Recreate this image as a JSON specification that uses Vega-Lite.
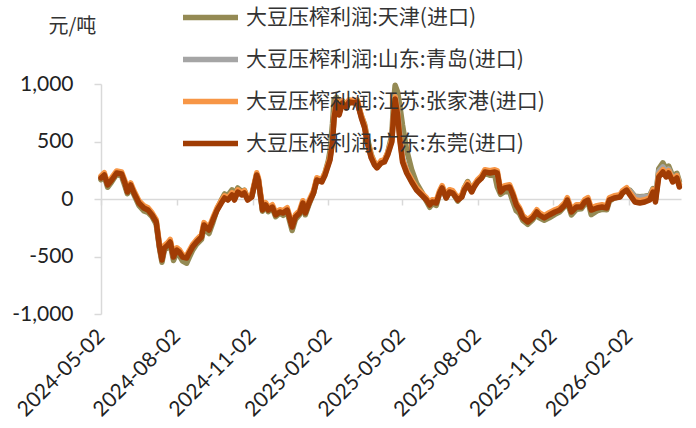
{
  "$schema": "https://vega.github.io/schema/vega-lite/v6.json",
  "width": 580,
  "height": 230,
  "autosize": "none",
  "padding": {"left": 101, "top": 84, "right": 15, "bottom": 114},
  "background": "white",
  "config": {"view": {"stroke": null}, "font": "Lato"},
  "datasets": {
    "tianjin": [
      {"d":"2024-05-02","v":168},{"d":"2024-05-06","v":199},{"d":"2024-05-10","v":102},{"d":"2024-05-15","v":150},{"d":"2024-05-21","v":216},{"d":"2024-05-27","v":197},{"d":"2024-05-31","v":114},{"d":"2024-06-03","v":46},{"d":"2024-06-07","v":102},{"d":"2024-06-11","v":37},{"d":"2024-06-17","v":-55},{"d":"2024-06-23","v":-103},{"d":"2024-06-28","v":-116},{"d":"2024-07-03","v":-154},{"d":"2024-07-08","v":-220},{"d":"2024-07-12","v":-428},{"d":"2024-07-15","v":-550},{"d":"2024-07-18","v":-441},{"d":"2024-07-22","v":-425},{"d":"2024-07-25","v":-394},{"d":"2024-07-29","v":-535},{"d":"2024-08-02","v":-464},{"d":"2024-08-05","v":-491},{"d":"2024-08-09","v":-540},{"d":"2024-08-14","v":-558},{"d":"2024-08-17","v":-510},{"d":"2024-08-21","v":-448},{"d":"2024-08-26","v":-394},{"d":"2024-09-01","v":-351},{"d":"2024-09-04","v":-251},{"d":"2024-09-10","v":-300},{"d":"2024-09-15","v":-200},{"d":"2024-09-20","v":-86},{"d":"2024-09-25","v":-10},{"d":"2024-09-29","v":44},{"d":"2024-10-03","v":31},{"d":"2024-10-08","v":80},{"d":"2024-10-11","v":31},{"d":"2024-10-15","v":96},{"d":"2024-10-20","v":65},{"d":"2024-10-23","v":77},{"d":"2024-10-27","v":6},{"d":"2024-11-01","v":27},{"d":"2024-11-07","v":209},{"d":"2024-11-09","v":170},{"d":"2024-11-14","v":-106},{"d":"2024-11-18","v":-57},{"d":"2024-11-21","v":-111},{"d":"2024-11-26","v":-80},{"d":"2024-11-30","v":-154},{"d":"2024-12-05","v":-123},{"d":"2024-12-09","v":-142},{"d":"2024-12-14","v":-111},{"d":"2024-12-20","v":-274},{"d":"2024-12-24","v":-177},{"d":"2024-12-29","v":-137},{"d":"2025-01-02","v":-45},{"d":"2025-01-05","v":-137},{"d":"2025-01-10","v":-36},{"d":"2025-01-15","v":52},{"d":"2025-01-19","v":175},{"d":"2025-01-25","v":163},{"d":"2025-01-29","v":229},{"d":"2025-02-02","v":336},{"d":"2025-02-04","v":420},{"d":"2025-02-07","v":656},{"d":"2025-02-09","v":865},{"d":"2025-02-12","v":884},{"d":"2025-02-15","v":791},{"d":"2025-02-19","v":855},{"d":"2025-02-24","v":822},{"d":"2025-02-27","v":854},{"d":"2025-03-06","v":835},{"d":"2025-03-09","v":834},{"d":"2025-03-14","v":725},{"d":"2025-03-18","v":648},{"d":"2025-03-21","v":536},{"d":"2025-03-26","v":387},{"d":"2025-03-30","v":316},{"d":"2025-04-02","v":280},{"d":"2025-04-07","v":313},{"d":"2025-04-11","v":332},{"d":"2025-04-15","v":403},{"d":"2025-04-20","v":556},{"d":"2025-04-22","v":825},{"d":"2025-04-24","v":990},{"d":"2025-04-27","v":931},{"d":"2025-04-30","v":796},{"d":"2025-05-03","v":642},{"d":"2025-05-08","v":426},{"d":"2025-05-14","v":258},{"d":"2025-05-20","v":138},{"d":"2025-05-26","v":65},{"d":"2025-06-01","v":-19},{"d":"2025-06-05","v":-72},{"d":"2025-06-08","v":-41},{"d":"2025-06-13","v":-55},{"d":"2025-06-17","v":52},{"d":"2025-06-20","v":106},{"d":"2025-06-25","v":9},{"d":"2025-06-29","v":66},{"d":"2025-07-03","v":52},{"d":"2025-07-09","v":-19},{"d":"2025-07-14","v":27},{"d":"2025-07-17","v":98},{"d":"2025-07-21","v":152},{"d":"2025-07-26","v":81},{"d":"2025-07-29","v":119},{"d":"2025-08-02","v":158},{"d":"2025-08-07","v":183},{"d":"2025-08-11","v":225},{"d":"2025-08-17","v":206},{"d":"2025-08-23","v":205},{"d":"2025-08-26","v":106},{"d":"2025-08-30","v":41},{"d":"2025-09-04","v":66},{"d":"2025-09-10","v":64},{"d":"2025-09-14","v":-25},{"d":"2025-09-18","v":-102},{"d":"2025-09-22","v":-126},{"d":"2025-09-26","v":-185},{"d":"2025-10-02","v":-220},{"d":"2025-10-08","v":-180},{"d":"2025-10-13","v":-133},{"d":"2025-10-16","v":-164},{"d":"2025-10-22","v":-185},{"d":"2025-10-28","v":-164},{"d":"2025-11-04","v":-133},{"d":"2025-11-10","v":-111},{"d":"2025-11-16","v":-62},{"d":"2025-11-19","v":-29},{"d":"2025-11-24","v":-138},{"d":"2025-11-30","v":-90},{"d":"2025-12-06","v":-85},{"d":"2025-12-10","v":-46},{"d":"2025-12-14","v":-19},{"d":"2025-12-18","v":-136},{"d":"2025-12-25","v":-103},{"d":"2025-12-31","v":-90},{"d":"2026-01-06","v":-93},{"d":"2026-01-09","v":-19},{"d":"2026-01-15","v":9},{"d":"2026-01-22","v":22},{"d":"2026-01-25","v":52},{"d":"2026-01-30","v":88},{"d":"2026-02-03","v":75},{"d":"2026-02-09","v":24},{"d":"2026-02-15","v":20},{"d":"2026-02-21","v":24},{"d":"2026-02-27","v":31},{"d":"2026-03-03","v":91},{"d":"2026-03-06","v":-6},{"d":"2026-03-10","v":262},{"d":"2026-03-15","v":315},{"d":"2026-03-19","v":262},{"d":"2026-03-22","v":286},{"d":"2026-03-27","v":198},{"d":"2026-04-01","v":223},{"d":"2026-04-04","v":154}
    ],
    "qingdao": [
      {"d":"2024-05-02","v":190},{"d":"2024-05-06","v":215},{"d":"2024-05-10","v":130},{"d":"2024-05-15","v":172},{"d":"2024-05-21","v":232},{"d":"2024-05-27","v":222},{"d":"2024-05-31","v":145},{"d":"2024-06-03","v":68},{"d":"2024-06-07","v":128},{"d":"2024-06-11","v":58},{"d":"2024-06-17","v":-28},{"d":"2024-06-23","v":-70},{"d":"2024-06-28","v":-90},{"d":"2024-07-03","v":-132},{"d":"2024-07-08","v":-192},{"d":"2024-07-12","v":-410},{"d":"2024-07-15","v":-522},{"d":"2024-07-18","v":-418},{"d":"2024-07-22","v":-392},{"d":"2024-07-25","v":-366},{"d":"2024-07-29","v":-497},{"d":"2024-08-02","v":-436},{"d":"2024-08-05","v":-452},{"d":"2024-08-09","v":-496},{"d":"2024-08-14","v":-505},{"d":"2024-08-17","v":-462},{"d":"2024-08-21","v":-410},{"d":"2024-08-26","v":-366},{"d":"2024-09-01","v":-322},{"d":"2024-09-04","v":-218},{"d":"2024-09-10","v":-262},{"d":"2024-09-15","v":-172},{"d":"2024-09-20","v":-88},{"d":"2024-09-25","v":-25},{"d":"2024-09-29","v":18},{"d":"2024-10-03","v":2},{"d":"2024-10-08","v":45},{"d":"2024-10-11","v":0},{"d":"2024-10-15","v":70},{"d":"2024-10-20","v":44},{"d":"2024-10-23","v":60},{"d":"2024-10-27","v":0},{"d":"2024-11-01","v":25},{"d":"2024-11-07","v":215},{"d":"2024-11-09","v":172},{"d":"2024-11-14","v":-88},{"d":"2024-11-18","v":-45},{"d":"2024-11-21","v":-88},{"d":"2024-11-26","v":-62},{"d":"2024-11-30","v":-130},{"d":"2024-12-05","v":-105},{"d":"2024-12-09","v":-114},{"d":"2024-12-14","v":-88},{"d":"2024-12-20","v":-236},{"d":"2024-12-24","v":-149},{"d":"2024-12-29","v":-114},{"d":"2025-01-02","v":-27},{"d":"2025-01-05","v":-114},{"d":"2025-01-10","v":-18},{"d":"2025-01-15","v":60},{"d":"2025-01-19","v":172},{"d":"2025-01-25","v":155},{"d":"2025-01-29","v":216},{"d":"2025-02-02","v":305},{"d":"2025-02-04","v":352},{"d":"2025-02-07","v":520},{"d":"2025-02-09","v":730},{"d":"2025-02-12","v":852},{"d":"2025-02-15","v":745},{"d":"2025-02-19","v":842},{"d":"2025-02-24","v":800},{"d":"2025-02-27","v":850},{"d":"2025-03-06","v":842},{"d":"2025-03-09","v":850},{"d":"2025-03-14","v":712},{"d":"2025-03-18","v":626},{"d":"2025-03-21","v":505},{"d":"2025-03-26","v":365},{"d":"2025-03-30","v":304},{"d":"2025-04-02","v":278},{"d":"2025-04-07","v":320},{"d":"2025-04-11","v":330},{"d":"2025-04-15","v":392},{"d":"2025-04-20","v":510},{"d":"2025-04-22","v":730},{"d":"2025-04-24","v":890},{"d":"2025-04-27","v":770},{"d":"2025-04-30","v":540},{"d":"2025-05-03","v":360},{"d":"2025-05-08","v":250},{"d":"2025-05-14","v":160},{"d":"2025-05-20","v":86},{"d":"2025-05-26","v":42},{"d":"2025-06-01","v":-2},{"d":"2025-06-05","v":-45},{"d":"2025-06-08","v":-18},{"d":"2025-06-13","v":-28},{"d":"2025-06-17","v":60},{"d":"2025-06-20","v":104},{"d":"2025-06-25","v":16},{"d":"2025-06-29","v":68},{"d":"2025-07-03","v":60},{"d":"2025-07-09","v":-2},{"d":"2025-07-14","v":25},{"d":"2025-07-17","v":86},{"d":"2025-07-21","v":130},{"d":"2025-07-26","v":68},{"d":"2025-07-29","v":112},{"d":"2025-08-02","v":156},{"d":"2025-08-07","v":190},{"d":"2025-08-11","v":242},{"d":"2025-08-17","v":233},{"d":"2025-08-23","v":240},{"d":"2025-08-26","v":220},{"d":"2025-08-30","v":68},{"d":"2025-09-04","v":104},{"d":"2025-09-10","v":110},{"d":"2025-09-14","v":40},{"d":"2025-09-18","v":-45},{"d":"2025-09-22","v":-90},{"d":"2025-09-26","v":-158},{"d":"2025-10-02","v":-192},{"d":"2025-10-08","v":-158},{"d":"2025-10-13","v":-105},{"d":"2025-10-16","v":-131},{"d":"2025-10-22","v":-158},{"d":"2025-10-28","v":-131},{"d":"2025-11-04","v":-105},{"d":"2025-11-10","v":-88},{"d":"2025-11-16","v":-45},{"d":"2025-11-19","v":-2},{"d":"2025-11-24","v":-105},{"d":"2025-11-30","v":-62},{"d":"2025-12-06","v":-62},{"d":"2025-12-10","v":-18},{"d":"2025-12-14","v":-2},{"d":"2025-12-18","v":-88},{"d":"2025-12-25","v":-70},{"d":"2025-12-31","v":-62},{"d":"2026-01-06","v":-70},{"d":"2026-01-09","v":-2},{"d":"2026-01-15","v":16},{"d":"2026-01-22","v":25},{"d":"2026-01-25","v":60},{"d":"2026-01-30","v":86},{"d":"2026-02-03","v":70},{"d":"2026-02-09","v":20},{"d":"2026-02-15","v":15},{"d":"2026-02-21","v":20},{"d":"2026-02-27","v":25},{"d":"2026-03-03","v":80},{"d":"2026-03-06","v":0},{"d":"2026-03-10","v":240},{"d":"2026-03-15","v":280},{"d":"2026-03-19","v":235},{"d":"2026-03-22","v":260},{"d":"2026-03-27","v":180},{"d":"2026-04-01","v":205},{"d":"2026-04-04","v":130}
    ],
    "zhangjiagang": [
      {"d":"2024-05-02","v":200},{"d":"2024-05-06","v":228},{"d":"2024-05-10","v":140},{"d":"2024-05-15","v":185},{"d":"2024-05-21","v":244},{"d":"2024-05-27","v":236},{"d":"2024-05-31","v":160},{"d":"2024-06-03","v":80},{"d":"2024-06-07","v":140},{"d":"2024-06-11","v":72},{"d":"2024-06-17","v":-15},{"d":"2024-06-23","v":-58},{"d":"2024-06-28","v":-76},{"d":"2024-07-03","v":-120},{"d":"2024-07-08","v":-180},{"d":"2024-07-12","v":-396},{"d":"2024-07-15","v":-510},{"d":"2024-07-18","v":-404},{"d":"2024-07-22","v":-380},{"d":"2024-07-25","v":-352},{"d":"2024-07-29","v":-485},{"d":"2024-08-02","v":-424},{"d":"2024-08-05","v":-440},{"d":"2024-08-09","v":-484},{"d":"2024-08-14","v":-492},{"d":"2024-08-17","v":-450},{"d":"2024-08-21","v":-398},{"d":"2024-08-26","v":-354},{"d":"2024-09-01","v":-310},{"d":"2024-09-04","v":-205},{"d":"2024-09-10","v":-250},{"d":"2024-09-15","v":-160},{"d":"2024-09-20","v":-76},{"d":"2024-09-25","v":-15},{"d":"2024-09-29","v":28},{"d":"2024-10-03","v":10},{"d":"2024-10-08","v":55},{"d":"2024-10-11","v":10},{"d":"2024-10-15","v":80},{"d":"2024-10-20","v":55},{"d":"2024-10-23","v":72},{"d":"2024-10-27","v":10},{"d":"2024-11-01","v":36},{"d":"2024-11-07","v":228},{"d":"2024-11-09","v":185},{"d":"2024-11-14","v":-76},{"d":"2024-11-18","v":-32},{"d":"2024-11-21","v":-76},{"d":"2024-11-26","v":-50},{"d":"2024-11-30","v":-118},{"d":"2024-12-05","v":-93},{"d":"2024-12-09","v":-102},{"d":"2024-12-14","v":-76},{"d":"2024-12-20","v":-224},{"d":"2024-12-24","v":-137},{"d":"2024-12-29","v":-102},{"d":"2025-01-02","v":-15},{"d":"2025-01-05","v":-102},{"d":"2025-01-10","v":-6},{"d":"2025-01-15","v":72},{"d":"2025-01-19","v":185},{"d":"2025-01-25","v":168},{"d":"2025-01-29","v":229},{"d":"2025-02-02","v":316},{"d":"2025-02-04","v":362},{"d":"2025-02-07","v":518},{"d":"2025-02-09","v":728},{"d":"2025-02-12","v":864},{"d":"2025-02-15","v":752},{"d":"2025-02-19","v":855},{"d":"2025-02-24","v":812},{"d":"2025-02-27","v":862},{"d":"2025-03-06","v":855},{"d":"2025-03-09","v":862},{"d":"2025-03-14","v":725},{"d":"2025-03-18","v":638},{"d":"2025-03-21","v":516},{"d":"2025-03-26","v":377},{"d":"2025-03-30","v":316},{"d":"2025-04-02","v":290},{"d":"2025-04-07","v":333},{"d":"2025-04-11","v":342},{"d":"2025-04-15","v":403},{"d":"2025-04-20","v":516},{"d":"2025-04-22","v":725},{"d":"2025-04-24","v":890},{"d":"2025-04-27","v":752},{"d":"2025-04-30","v":518},{"d":"2025-05-03","v":342},{"d":"2025-05-08","v":246},{"d":"2025-05-14","v":168},{"d":"2025-05-20","v":98},{"d":"2025-05-26","v":55},{"d":"2025-06-01","v":11},{"d":"2025-06-05","v":-32},{"d":"2025-06-08","v":-6},{"d":"2025-06-13","v":-15},{"d":"2025-06-17","v":72},{"d":"2025-06-20","v":116},{"d":"2025-06-25","v":29},{"d":"2025-06-29","v":81},{"d":"2025-07-03","v":72},{"d":"2025-07-09","v":11},{"d":"2025-07-14","v":37},{"d":"2025-07-17","v":98},{"d":"2025-07-21","v":142},{"d":"2025-07-26","v":81},{"d":"2025-07-29","v":124},{"d":"2025-08-02","v":168},{"d":"2025-08-07","v":203},{"d":"2025-08-11","v":255},{"d":"2025-08-17","v":246},{"d":"2025-08-23","v":255},{"d":"2025-08-26","v":246},{"d":"2025-08-30","v":81},{"d":"2025-09-04","v":116},{"d":"2025-09-10","v":124},{"d":"2025-09-14","v":55},{"d":"2025-09-18","v":-32},{"d":"2025-09-22","v":-76},{"d":"2025-09-26","v":-145},{"d":"2025-10-02","v":-180},{"d":"2025-10-08","v":-145},{"d":"2025-10-13","v":-93},{"d":"2025-10-16","v":-119},{"d":"2025-10-22","v":-145},{"d":"2025-10-28","v":-119},{"d":"2025-11-04","v":-93},{"d":"2025-11-10","v":-76},{"d":"2025-11-16","v":-32},{"d":"2025-11-19","v":11},{"d":"2025-11-24","v":-93},{"d":"2025-11-30","v":-50},{"d":"2025-12-06","v":-50},{"d":"2025-12-10","v":-6},{"d":"2025-12-14","v":11},{"d":"2025-12-18","v":-76},{"d":"2025-12-25","v":-58},{"d":"2025-12-31","v":-50},{"d":"2026-01-06","v":-58},{"d":"2026-01-09","v":11},{"d":"2026-01-15","v":29},{"d":"2026-01-22","v":37},{"d":"2026-01-25","v":72},{"d":"2026-01-30","v":98},{"d":"2026-02-03","v":55},{"d":"2026-02-09","v":-6},{"d":"2026-02-15","v":-15},{"d":"2026-02-21","v":-6},{"d":"2026-02-27","v":11},{"d":"2026-03-03","v":81},{"d":"2026-03-06","v":-6},{"d":"2026-03-10","v":212},{"d":"2026-03-15","v":255},{"d":"2026-03-19","v":212},{"d":"2026-03-22","v":246},{"d":"2026-03-27","v":168},{"d":"2026-04-01","v":203},{"d":"2026-04-04","v":124}
    ],
    "dongguan": [
      {"d":"2024-05-02","v":183},{"d":"2024-05-06","v":209},{"d":"2024-05-10","v":122},{"d":"2024-05-15","v":165},{"d":"2024-05-21","v":226},{"d":"2024-05-27","v":217},{"d":"2024-05-31","v":139},{"d":"2024-06-03","v":61},{"d":"2024-06-07","v":122},{"d":"2024-06-11","v":52},{"d":"2024-06-17","v":-35},{"d":"2024-06-23","v":-78},{"d":"2024-06-28","v":-96},{"d":"2024-07-03","v":-139},{"d":"2024-07-08","v":-200},{"d":"2024-07-12","v":-418},{"d":"2024-07-15","v":-530},{"d":"2024-07-18","v":-426},{"d":"2024-07-22","v":-400},{"d":"2024-07-25","v":-374},{"d":"2024-07-29","v":-505},{"d":"2024-08-02","v":-444},{"d":"2024-08-05","v":-461},{"d":"2024-08-09","v":-505},{"d":"2024-08-14","v":-513},{"d":"2024-08-17","v":-470},{"d":"2024-08-21","v":-418},{"d":"2024-08-26","v":-374},{"d":"2024-09-01","v":-331},{"d":"2024-09-04","v":-226},{"d":"2024-09-10","v":-270},{"d":"2024-09-15","v":-180},{"d":"2024-09-20","v":-96},{"d":"2024-09-25","v":-35},{"d":"2024-09-29","v":9},{"d":"2024-10-03","v":-9},{"d":"2024-10-08","v":35},{"d":"2024-10-11","v":-9},{"d":"2024-10-15","v":61},{"d":"2024-10-20","v":35},{"d":"2024-10-23","v":52},{"d":"2024-10-27","v":-9},{"d":"2024-11-01","v":17},{"d":"2024-11-07","v":209},{"d":"2024-11-09","v":165},{"d":"2024-11-14","v":-96},{"d":"2024-11-18","v":-52},{"d":"2024-11-21","v":-96},{"d":"2024-11-26","v":-70},{"d":"2024-11-30","v":-139},{"d":"2024-12-05","v":-113},{"d":"2024-12-09","v":-122},{"d":"2024-12-14","v":-96},{"d":"2024-12-20","v":-244},{"d":"2024-12-24","v":-157},{"d":"2024-12-29","v":-122},{"d":"2025-01-02","v":-35},{"d":"2025-01-05","v":-122},{"d":"2025-01-10","v":-26},{"d":"2025-01-15","v":52},{"d":"2025-01-19","v":165},{"d":"2025-01-25","v":148},{"d":"2025-01-29","v":209},{"d":"2025-02-02","v":296},{"d":"2025-02-04","v":340},{"d":"2025-02-07","v":496},{"d":"2025-02-09","v":705},{"d":"2025-02-12","v":844},{"d":"2025-02-15","v":731},{"d":"2025-02-19","v":835},{"d":"2025-02-24","v":792},{"d":"2025-02-27","v":844},{"d":"2025-03-06","v":835},{"d":"2025-03-09","v":844},{"d":"2025-03-14","v":705},{"d":"2025-03-18","v":618},{"d":"2025-03-21","v":496},{"d":"2025-03-26","v":357},{"d":"2025-03-30","v":296},{"d":"2025-04-02","v":270},{"d":"2025-04-07","v":313},{"d":"2025-04-11","v":322},{"d":"2025-04-15","v":383},{"d":"2025-04-20","v":496},{"d":"2025-04-22","v":705},{"d":"2025-04-24","v":870},{"d":"2025-04-27","v":731},{"d":"2025-04-30","v":496},{"d":"2025-05-03","v":322},{"d":"2025-05-08","v":226},{"d":"2025-05-14","v":148},{"d":"2025-05-20","v":78},{"d":"2025-05-26","v":35},{"d":"2025-06-01","v":-9},{"d":"2025-06-05","v":-52},{"d":"2025-06-08","v":-26},{"d":"2025-06-13","v":-35},{"d":"2025-06-17","v":52},{"d":"2025-06-20","v":96},{"d":"2025-06-25","v":9},{"d":"2025-06-29","v":61},{"d":"2025-07-03","v":52},{"d":"2025-07-09","v":-9},{"d":"2025-07-14","v":17},{"d":"2025-07-17","v":78},{"d":"2025-07-21","v":122},{"d":"2025-07-26","v":61},{"d":"2025-07-29","v":104},{"d":"2025-08-02","v":148},{"d":"2025-08-07","v":183},{"d":"2025-08-11","v":235},{"d":"2025-08-17","v":226},{"d":"2025-08-23","v":235},{"d":"2025-08-26","v":226},{"d":"2025-08-30","v":61},{"d":"2025-09-04","v":96},{"d":"2025-09-10","v":104},{"d":"2025-09-14","v":35},{"d":"2025-09-18","v":-52},{"d":"2025-09-22","v":-96},{"d":"2025-09-26","v":-165},{"d":"2025-10-02","v":-200},{"d":"2025-10-08","v":-165},{"d":"2025-10-13","v":-113},{"d":"2025-10-16","v":-139},{"d":"2025-10-22","v":-165},{"d":"2025-10-28","v":-139},{"d":"2025-11-04","v":-113},{"d":"2025-11-10","v":-96},{"d":"2025-11-16","v":-52},{"d":"2025-11-19","v":-9},{"d":"2025-11-24","v":-113},{"d":"2025-11-30","v":-70},{"d":"2025-12-06","v":-70},{"d":"2025-12-10","v":-26},{"d":"2025-12-14","v":-9},{"d":"2025-12-18","v":-96},{"d":"2025-12-25","v":-78},{"d":"2025-12-31","v":-70},{"d":"2026-01-06","v":-78},{"d":"2026-01-09","v":-9},{"d":"2026-01-15","v":9},{"d":"2026-01-22","v":17},{"d":"2026-01-25","v":52},{"d":"2026-01-30","v":78},{"d":"2026-02-03","v":35},{"d":"2026-02-09","v":-26},{"d":"2026-02-15","v":-35},{"d":"2026-02-21","v":-26},{"d":"2026-02-27","v":-9},{"d":"2026-03-03","v":61},{"d":"2026-03-06","v":-26},{"d":"2026-03-10","v":192},{"d":"2026-03-15","v":235},{"d":"2026-03-19","v":192},{"d":"2026-03-22","v":226},{"d":"2026-03-27","v":148},{"d":"2026-04-01","v":183},{"d":"2026-04-04","v":104}
    ]
  },
  "encoding": {
    "x": {
      "field": "d",
      "type": "temporal",
      "scale": {
        "type": "utc",
        "domain": [
          {"year": 2024, "month": 5, "date": 2, "utc": true},
          {"year": 2026, "month": 4, "date": 6, "utc": true}
        ]
      },
      "axis": {
        "title": null,
        "grid": false,
        "offset": -115,
        "values": [
          {"year": 2024, "month": 5, "date": 2, "utc": true},
          {"year": 2024, "month": 8, "date": 2, "utc": true},
          {"year": 2024, "month": 11, "date": 2, "utc": true},
          {"year": 2025, "month": 2, "date": 2, "utc": true},
          {"year": 2025, "month": 5, "date": 2, "utc": true},
          {"year": 2025, "month": 8, "date": 2, "utc": true},
          {"year": 2025, "month": 11, "date": 2, "utc": true},
          {"year": 2026, "month": 2, "date": 2, "utc": true}
        ],
        "format": "%Y-%m-%d",
        "domainColor": "#D9D9D9",
        "domainWidth": 1.5,
        "tickColor": "#D9D9D9",
        "tickWidth": 1.5,
        "tickSize": 6,
        "labelAngle": -45,
        "labelAlign": "right",
        "labelBaseline": "middle",
        "labelPadding": 128,
        "labelFont": "Lato",
        "labelFontSize": 21,
        "labelColor": "#222222",
        "labelOverlap": false,
        "labelFlush": false,
        "labelBound": false
      }
    },
    "y": {
      "field": "v",
      "type": "quantitative",
      "scale": {"domain": [-1000, 1000], "nice": false, "zero": false},
      "axis": {
        "values": [-1000, -500, 0, 500, 1000],
        "format": ",.0f",
        "labelExpr": "replace(datum.label, '−', '-')",
        "grid": false,
        "domainColor": "#D9D9D9",
        "domainWidth": 1.5,
        "tickColor": "#D9D9D9",
        "tickWidth": 1.5,
        "tickSize": 7,
        "labelPadding": 21,
        "labelFont": "Lato",
        "labelFontSize": 21,
        "labelColor": "#222222",
        "title": "元/吨",
        "titleAngle": 0,
        "titleAlign": "left",
        "titleBaseline": "middle",
        "titleX": -53,
        "titleY": -58,
        "titleFont": "Noto Sans CJK SC",
        "titleFontSize": 20,
        "titleFontWeight": "normal",
        "titleColor": "#333333"
      }
    }
  },
  "layer": [
    {
      "data": {"name": "tianjin"},
      "mark": {"type": "line", "strokeWidth": 5.5, "strokeJoin": "round", "strokeCap": "round"},
      "encoding": {
        "color": {
          "datum": "大豆压榨利润:天津(进口)",
          "type": "nominal",
          "scale": {
            "domain": ["大豆压榨利润:天津(进口)", "大豆压榨利润:山东:青岛(进口)", "大豆压榨利润:江苏:张家港(进口)", "大豆压榨利润:广东:东莞(进口)"],
            "range": ["#948A54", "#A5A5A5", "#F79646", "#A03C04"]
          },
          "legend": {
            "title": null,
            "orient": "none",
            "legendX": 79,
            "legendY": -97,
            "padding": 0,
            "symbolType": "stroke",
            "symbolSize": 3025,
            "symbolStrokeWidth": 5.5,
            "labelFont": "Noto Sans CJK SC",
            "labelFontSize": 21,
            "labelColor": "#333333",
            "labelOffset": 5,
            "rowPadding": -13,
            "labelLimit": 400
          }
        }
      }
    },
    {
      "data": {"name": "qingdao"},
      "mark": {"type": "line", "strokeWidth": 5.5, "strokeJoin": "round", "strokeCap": "round"},
      "encoding": {"color": {"datum": "大豆压榨利润:山东:青岛(进口)", "type": "nominal"}}
    },
    {
      "data": {"name": "zhangjiagang"},
      "mark": {"type": "line", "strokeWidth": 5.5, "strokeJoin": "round", "strokeCap": "round"},
      "encoding": {"color": {"datum": "大豆压榨利润:江苏:张家港(进口)", "type": "nominal"}}
    },
    {
      "data": {"name": "dongguan"},
      "mark": {"type": "line", "strokeWidth": 5.5, "strokeJoin": "round", "strokeCap": "round"},
      "encoding": {"color": {"datum": "大豆压榨利润:广东:东莞(进口)", "type": "nominal"}}
    }
  ]
}
